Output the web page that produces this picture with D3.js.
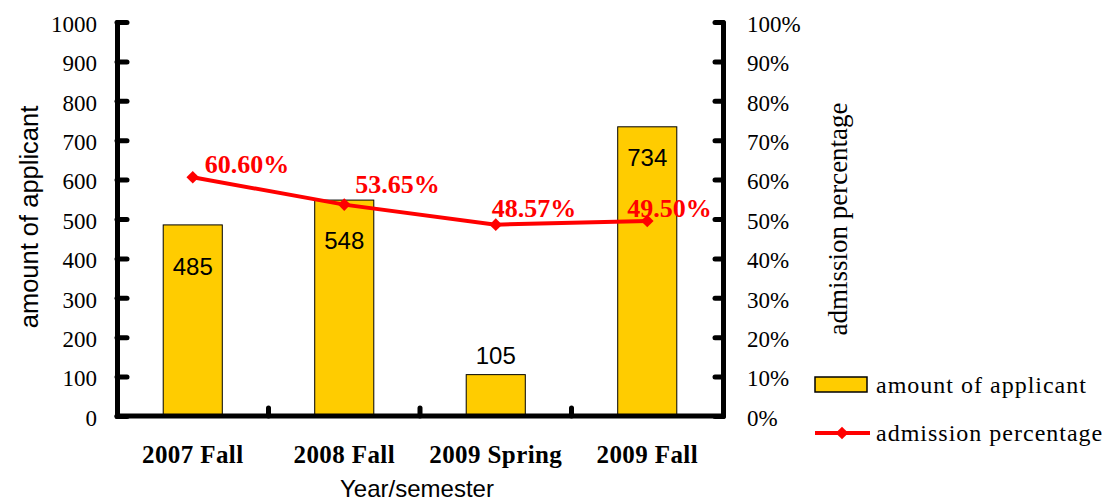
<!DOCTYPE html>
<html>
<head>
<meta charset="utf-8">
<script src="https://cdn.jsdelivr.net/npm/d3@7"></script>
<style>
  body { margin: 0; background: #fff; }
  svg { display: block; }
  .tick text { font-family: "Liberation Serif", "Times New Roman", serif !important; }
</style>
</head>
<body>
<div id="chart"></div>
<script>
// Data
const semesters = ["2007 Fall", "2008 Fall", "2009 Spring", "2009 Fall"];
const applicants = [485, 548, 105, 734];
const admission = [0.606, 0.5365, 0.4857, 0.495];
const admissionLabels = ["60.60%", "53.65%", "48.57%", "49.50%"];
const countTicks = [0, 100, 200, 300, 400, 500, 600, 700, 800, 900, 1000];
const pctTicks = [0, 0.1, 0.2, 0.3, 0.4, 0.5, 0.6, 0.7, 0.8, 0.9, 1];

// label nudges (the original labels were dragged by hand)
const countLabelDy = [50, 49, -11, 39];
const pctLabelDx = [12, 11, -4, -20];
const pctLabelDy = [-4, -12, -8, -4];

const width = 1109, height = 501;
const margin = { top: 22, right: 386, bottom: 85, left: 117 };
const serif = "Liberation Serif, Times New Roman, serif";
const sans = "Liberation Sans, Arial, sans-serif";

const svg = d3.select("#chart").append("svg").attr("width", width).attr("height", height);

const x = d3.scaleBand().domain(semesters).range([margin.left, width - margin.right]).padding(0);
const y = d3.scaleLinear().domain([0, 1000]).range([height - margin.bottom, margin.top]);
const y2 = d3.scaleLinear().domain([0, 1]).range([height - margin.bottom, margin.top]);
const barW = x.bandwidth() * 0.39;
const cx = i => x(semesters[i]) + x.bandwidth() / 2;

// Bars
svg.selectAll("rect.bar").data(applicants).enter().append("rect")
    .attr("class", "bar")
    .attr("x", (d, i) => cx(i) - barW / 2)
    .attr("y", d => y(d))
    .attr("width", barW)
    .attr("height", d => y(0) - y(d))
    .attr("fill", "#FFCC00")
    .attr("stroke", "#000")
    .attr("stroke-width", 1);

// Bar value labels
svg.selectAll("text.count").data(applicants).enter().append("text")
    .attr("class", "count")
    .attr("x", (d, i) => cx(i))
    .attr("y", (d, i) => y(d) + countLabelDy[i])
    .attr("text-anchor", "middle")
    .attr("font-family", sans).attr("font-size", 24)
    .text(d => d);

// Left axis
const yAxis = svg.append("g").attr("transform", `translate(${margin.left},0)`)
    .call(d3.axisLeft(y).tickValues(countTicks).tickSizeInner(-10).tickSizeOuter(0).tickPadding(20)
        .tickFormat(d3.format("d")));
// Right axis
const y2Axis = svg.append("g").attr("transform", `translate(${width - margin.right},0)`)
    .call(d3.axisRight(y2).tickValues(pctTicks).tickSizeInner(-8).tickSizeOuter(0).tickPadding(24)
        .tickFormat(d3.format(".0%")));

[yAxis, y2Axis].forEach(g => {
    g.attr("font-family", serif).attr("font-size", 23);
    g.select(".domain").attr("stroke-width", 5).attr("stroke-linecap", "round");
    g.selectAll(".tick line").attr("stroke-width", 5).attr("stroke-linecap", "round");
    g.selectAll(".tick text").attr("dy", "0.4em").style("font-size", "23px");
});

// Bottom axis
svg.append("line")
    .attr("x1", margin.left).attr("x2", width - margin.right)
    .attr("y1", y(0)).attr("y2", y(0))
    .attr("stroke", "#000").attr("stroke-width", 5).attr("stroke-linecap", "round");
svg.selectAll("line.xtick").data(semesters.slice(1)).enter().append("line")
    .attr("class", "xtick")
    .attr("x1", d => x(d)).attr("x2", d => x(d))
    .attr("y1", y(0)).attr("y2", y(0) - 8)
    .attr("stroke", "#000").attr("stroke-width", 5).attr("stroke-linecap", "round");
svg.selectAll("text.cat").data(semesters).enter().append("text")
    .attr("class", "cat")
    .attr("x", d => x(d) + x.bandwidth() / 2)
    .attr("y", y(0) + 47)
    .attr("text-anchor", "middle")
    .attr("font-family", serif).attr("font-size", 25).attr("font-weight", "bold")
    .attr("letter-spacing", 0.4)
    .text(d => d);

// Line + markers
const line = d3.line()
    .x((d, i) => cx(i))
    .y(d => y2(d));
svg.append("path").datum(admission)
    .attr("fill", "none").attr("stroke", "#FF0000").attr("stroke-width", 4)
    .attr("d", line);
const diamond = d3.symbol().type(d3.symbolSquare).size(80);
svg.selectAll("path.marker").data(admission).enter().append("path")
    .attr("class", "marker")
    .attr("transform", (d, i) => `translate(${cx(i)},${y2(d)}) rotate(45)`)
    .attr("d", diamond)
    .attr("fill", "#FF0000");

svg.selectAll("text.pct").data(admission).enter().append("text")
    .attr("class", "pct")
    .attr("x", (d, i) => cx(i) + pctLabelDx[i])
    .attr("y", (d, i) => y2(d) + pctLabelDy[i])
    .attr("font-family", serif).attr("font-size", 26).attr("font-weight", "bold")
    .attr("fill", "#FF0000")
    .text((d, i) => admissionLabels[i]);

// Axis titles
svg.append("text")
    .attr("x", 417).attr("y", 497)
    .attr("text-anchor", "middle")
    .attr("font-family", sans).attr("font-size", 24)
    .text("Year/semester");
svg.append("text")
    .attr("transform", `translate(38,217) rotate(-90)`)
    .attr("text-anchor", "middle")
    .attr("font-family", sans).attr("font-size", 25.5)
    .text("amount of applicant");
svg.append("text")
    .attr("transform", `translate(847,219) rotate(-90)`)
    .attr("text-anchor", "middle")
    .attr("font-family", serif).attr("font-size", 27)
    .text("admission percentage");

// Legend
const legend = svg.append("g").attr("transform", "translate(815,0)");
legend.append("rect")
    .attr("x", 0).attr("y", 377).attr("width", 52).attr("height", 15)
    .attr("fill", "#FFCC00").attr("stroke", "#000").attr("stroke-width", 1.5);
legend.append("text")
    .attr("x", 61).attr("y", 393)
    .attr("font-family", serif).attr("font-size", 24).attr("letter-spacing", 1)
    .text("amount of applicant");
legend.append("line")
    .attr("x1", 0).attr("x2", 55).attr("y1", 433).attr("y2", 433)
    .attr("stroke", "#FF0000").attr("stroke-width", 4);
legend.append("path")
    .attr("transform", "translate(27,433) rotate(45)")
    .attr("d", diamond)
    .attr("fill", "#FF0000");
legend.append("text")
    .attr("x", 61).attr("y", 441)
    .attr("font-family", serif).attr("font-size", 24).attr("letter-spacing", 1)
    .text("admission percentage");
</script>
</body>
</html>
